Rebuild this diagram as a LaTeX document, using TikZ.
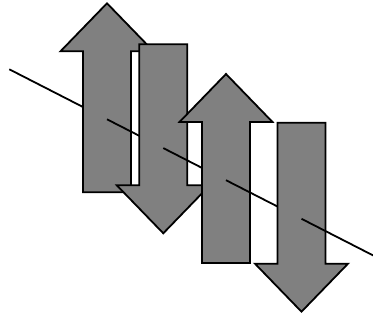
\documentclass[tikz,border=0pt]{standalone}
\usepackage{tikz}
\usepackage{xcolor}
\definecolor{spinGray}{HTML}{808080}

\begin{document}
\begin{tikzpicture}[
    x=1pt, y=-1pt,
    spin/.style={draw=black, fill=spinGray, line width=1.8pt, line join=miter},
    axis/.style={draw=black, line width=1.8pt}
]
    \useasboundingbox (0,0) rectangle (373,320);

    % crossing points of the axis with the spins
    \coordinate (c0) at (9.3,69.3);
    \coordinate (c1) at (107,119.3);
    \coordinate (c2) at (163.3,148.1);
    \coordinate (c3) at (226,180.2);
    \coordinate (c4) at (301.5,218.8);
    \coordinate (c5) at (376,256.9);

    \draw[axis] (c0) -- (c1);

    % spins: centre x / tip y / direction (1 up, -1 down)
    \foreach \x/\y/\s [count=\i] in {107/3.3/1, 163.3/233.3/-1, 226/74/1, 301.5/311.7/-1} {
        \pgfmathtruncatemacro\nxt{\i+1}
        \draw[spin] (\x,\y) -- ({\x+46.5},{\y+\s*48}) -- ({\x+24},{\y+\s*48})
            -- ({\x+24},{\y+\s*189}) -- ({\x-24},{\y+\s*189})
            -- ({\x-24},{\y+\s*48}) -- ({\x-46.5},{\y+\s*48}) -- cycle;
        \draw[axis] (c\i) -- (c\nxt);
    }
\end{tikzpicture}
\end{document}
